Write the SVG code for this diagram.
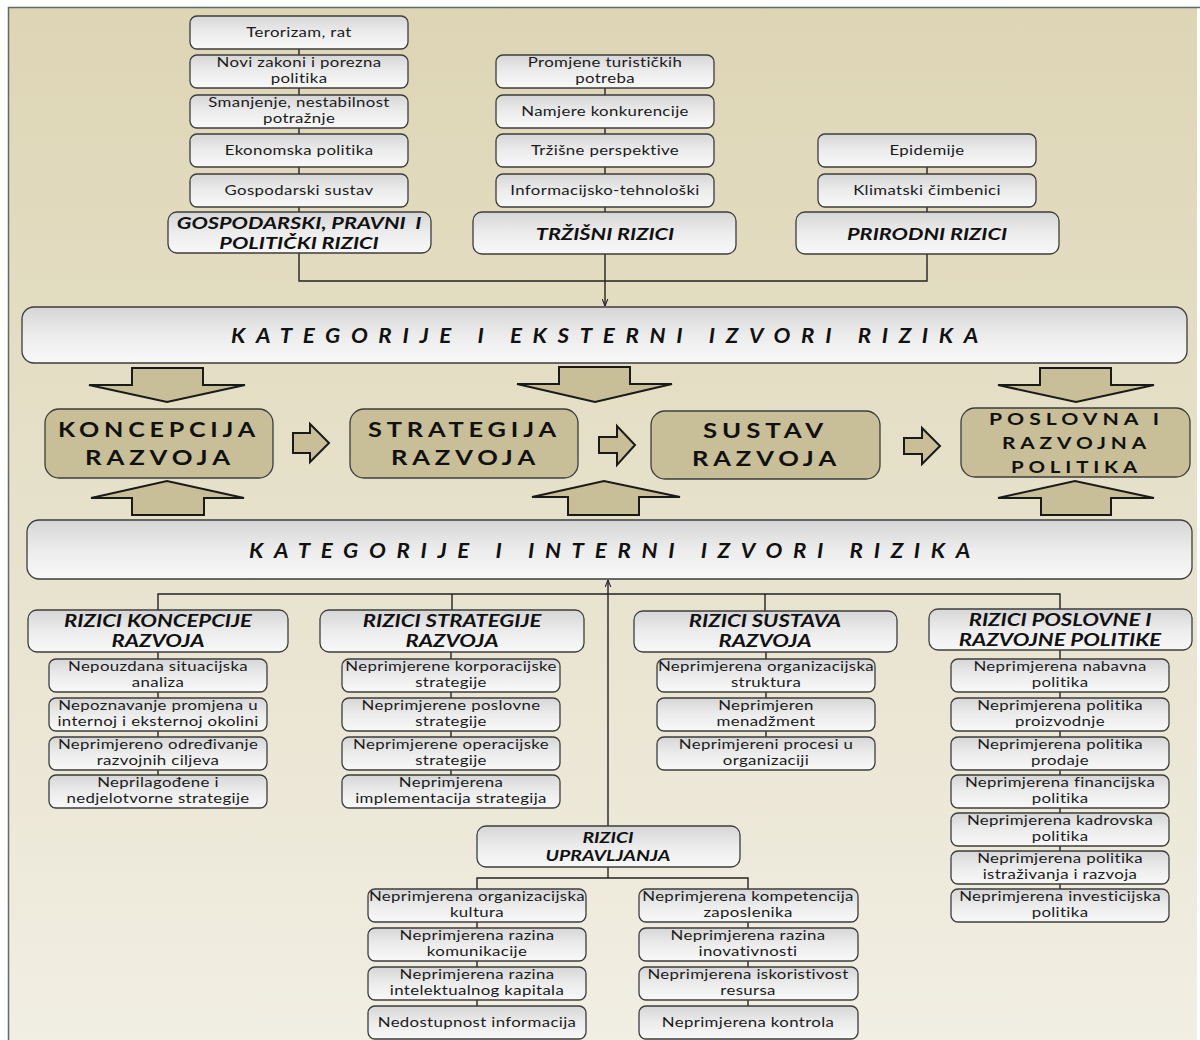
<svg xmlns="http://www.w3.org/2000/svg" width="1200" height="1040" viewBox="0 0 1200 1040">
<defs>
<linearGradient id="bg" x1="0" y1="0" x2="0" y2="1">
<stop offset="0" stop-color="#ddd5b4"/>
<stop offset="1" stop-color="#f1eee3"/>
</linearGradient>
<linearGradient id="box" x1="0" y1="0" x2="0" y2="1">
<stop offset="0" stop-color="#d6d6d6"/>
<stop offset="0.5" stop-color="#ececec"/>
<stop offset="1" stop-color="#f8f8f8"/>
</linearGradient>
<marker id="arr" viewBox="0 0 10 10" refX="10" refY="5" markerWidth="7" markerHeight="7" orient="auto-start-reverse" markerUnits="userSpaceOnUse">
<path d="M0,1 L10,5 L0,9" fill="none" stroke="#222" stroke-width="1.5"/>
</marker>
<style>
.b{fill:url(#box);stroke:#3c3c3c;stroke-width:1.3}
.n{fill:#c8be97;stroke:#3c3c3c;stroke-width:1.3}
.ba{fill:#c8be97;stroke:#1a1a1a;stroke-width:2;stroke-linejoin:miter}
.t{font-family:Lato,"Liberation Sans",sans-serif;font-size:14px;fill:#1a1a1a;text-anchor:middle;letter-spacing:0.3px}
.h{font-family:Lato,"Liberation Sans",sans-serif;font-size:17px;font-weight:bold;font-style:italic;fill:#111;text-anchor:middle}
.hs{font-family:Lato,"Liberation Sans",sans-serif;font-size:15px;font-weight:bold;font-style:italic;fill:#111;text-anchor:middle}
.band{font-family:Lato,"Liberation Sans",sans-serif;font-size:21px;font-weight:bold;font-style:italic;fill:#111;letter-spacing:10px}
.nt{font-family:Lato,"Liberation Sans",sans-serif;font-size:21px;font-weight:bold;fill:#111;letter-spacing:4px}
.nts{font-family:Lato,"Liberation Sans",sans-serif;font-size:17px;font-weight:bold;fill:#111;letter-spacing:4px}
.c{fill:none;stroke:#222;stroke-width:1.4}
</style>
</defs>
<rect x="0" y="0" width="1200" height="1040" fill="#ffffff"/>
<rect x="8" y="7" width="1189" height="1033" fill="url(#bg)"/>
<path d="M8.5 1040 V7.5 H1200" fill="none" stroke="#5d6b6b" stroke-width="1.5"/>

<g id="connectors">
<path class="c" d="M299 40 V212"/>
<path class="c" d="M605 70 V212"/>
<path class="c" d="M927 150 V212"/>
<path class="c" d="M299 253 V281 H927 V254"/>
<path class="c" d="M605 254 V306" marker-end="url(#arr)"/>
<path class="c" d="M608 826 V580" marker-end="url(#arr)"/>
<path class="c" d="M158 610 V594 H1060 V609"/>
<path class="c" d="M452 594 V610"/>
<path class="c" d="M765 594 V611"/>
<path class="c" d="M158 652 V790"/>
<path class="c" d="M451 652 V790"/>
<path class="c" d="M766 652 V750"/>
<path class="c" d="M1060 650 V900"/>
<path class="c" d="M608 867 V878"/>
<path class="c" d="M477 889 V878 H748 V889"/>
<path class="c" d="M477 900 V1015"/>
<path class="c" d="M748 900 V1015"/>
</g>

<g id="ext-gospodarski">
<g id="g1"><rect class="b" x="190" y="16" width="218" height="33" rx="7"/><g transform="translate(299 0) scale(1.2 1)"><text class="t" y="37">Terorizam, rat</text></g></g>
<g id="g2"><rect class="b" x="190" y="55" width="218" height="33" rx="7"/><g transform="translate(299 0) scale(1.2 1)"><text class="t" y="67.5">Novi zakoni i porezna</text><text class="t" y="83.5">politika</text></g></g>
<g id="g3"><rect class="b" x="190" y="95" width="218" height="33" rx="7"/><g transform="translate(299 0) scale(1.2 1)"><text class="t" y="107.5">Smanjenje, nestabilnost</text><text class="t" y="123.5">potražnje</text></g></g>
<g id="g4"><rect class="b" x="190" y="134" width="218" height="33" rx="7"/><g transform="translate(299 0) scale(1.2 1)"><text class="t" y="155">Ekonomska politika</text></g></g>
<g id="g5"><rect class="b" x="190" y="174" width="218" height="33" rx="7"/><g transform="translate(299 0) scale(1.2 1)"><text class="t" y="195">Gospodarski sustav</text></g></g>
<g id="gh"><rect class="b" x="168" y="212" width="263" height="41" rx="9"/><g transform="translate(299 0) scale(1.28 1)"><text class="h" y="229" style="white-space:pre">GOSPODARSKI, PRAVNI  I</text><text class="h" y="249">POLITIČKI RIZICI</text></g></g>
</g>

<g id="ext-trzisni">
<g id="m1"><rect class="b" x="496" y="55" width="218" height="33" rx="7"/><g transform="translate(605 0) scale(1.2 1)"><text class="t" y="67.5">Promjene turističkih</text><text class="t" y="83.5">potreba</text></g></g>
<g id="m2"><rect class="b" x="496" y="95" width="218" height="33" rx="7"/><g transform="translate(605 0) scale(1.2 1)"><text class="t" y="116">Namjere konkurencije</text></g></g>
<g id="m3"><rect class="b" x="496" y="134" width="218" height="33" rx="7"/><g transform="translate(605 0) scale(1.2 1)"><text class="t" y="155">Tržišne perspektive</text></g></g>
<g id="m4"><rect class="b" x="496" y="174" width="218" height="33" rx="7"/><g transform="translate(605 0) scale(1.2 1)"><text class="t" y="195">Informacijsko-tehnološki</text></g></g>
<g id="mh"><rect class="b" x="473" y="212" width="263" height="42" rx="9"/><g transform="translate(605 0) scale(1.28 1)"><text class="h" y="240">TRŽIŠNI RIZICI</text></g></g>
</g>

<g id="ext-prirodni">
<g id="p1"><rect class="b" x="818" y="134" width="218" height="33" rx="7"/><g transform="translate(927 0) scale(1.2 1)"><text class="t" y="155">Epidemije</text></g></g>
<g id="p2"><rect class="b" x="818" y="174" width="218" height="33" rx="7"/><g transform="translate(927 0) scale(1.2 1)"><text class="t" y="195">Klimatski čimbenici</text></g></g>
<g id="ph"><rect class="b" x="796" y="212" width="263" height="42" rx="9"/><g transform="translate(927 0) scale(1.28 1)"><text class="h" y="240">PRIRODNI RIZICI</text></g></g>
</g>

<g id="band-ext"><rect class="b" x="22" y="307" width="1165" height="56" rx="12"/><text class="band" x="231" y="343" textLength="758" lengthAdjust="spacingAndGlyphs">KATEGORIJE I EKSTERNI IZVORI RIZIKA</text></g>

<g id="block-arrows">
<polygon class="ba" points="132,368 203,368 203,385 245,385 167,402 89,385 132,385"/>
<polygon class="ba" points="559,367 630,367 630,384 672,384 595,402 517,384 559,384"/>
<polygon class="ba" points="1040,368 1111,368 1111,385 1154,385 1076,402 998,385 1040,385"/>
<polygon class="ba" points="132,515 204,515 204,498 244,498 167,481 91,498 132,498"/>
<polygon class="ba" points="568,515 639,515 639,497 680,497 604,481 532,497 568,497"/>
<polygon class="ba" points="1041,515 1111,515 1111,498 1154,498 1075,481 998,498 1041,498"/>
<polygon class="ba" points="293,433 310,433 310,424 329,443 310,462 310,453 293,453"/>
<polygon class="ba" points="599,437 617,437 617,426 635,445 617,465 617,453 599,453"/>
<polygon class="ba" points="904,438 922,438 922,428 940,446 922,464 922,454 904,454"/>
</g>

<g id="koncepcija"><rect class="n" x="45" y="409" width="228" height="69" rx="14"/><text class="nt" x="58" y="437" textLength="202" lengthAdjust="spacingAndGlyphs">KONCEPCIJA</text><text class="nt" x="85" y="465" textLength="150" lengthAdjust="spacingAndGlyphs">RAZVOJA</text></g>
<g id="strategija"><rect class="n" x="350" y="409" width="228" height="69" rx="14"/><text class="nt" x="368" y="437" textLength="193" lengthAdjust="spacingAndGlyphs">STRATEGIJA</text><text class="nt" x="391" y="465" textLength="149" lengthAdjust="spacingAndGlyphs">RAZVOJA</text></g>
<g id="sustav"><rect class="n" x="651" y="411" width="229" height="68" rx="14"/><text class="nt" x="703" y="438" textLength="125" lengthAdjust="spacingAndGlyphs">SUSTAV</text><text class="nt" x="692" y="466" textLength="149" lengthAdjust="spacingAndGlyphs">RAZVOJA</text></g>
<g id="poslovna"><rect class="n" x="961" y="408" width="229" height="69" rx="14"/><text class="nts" x="989" y="425" textLength="175" lengthAdjust="spacingAndGlyphs">POSLOVNA I</text><text class="nts" x="1002" y="449" textLength="149" lengthAdjust="spacingAndGlyphs">RAZVOJNA</text><text class="nts" x="1011" y="473" textLength="131" lengthAdjust="spacingAndGlyphs">POLITIKA</text></g>

<g id="band-int"><rect class="b" x="27" y="520" width="1165" height="59" rx="12"/><text class="band" x="249" y="558" textLength="732" lengthAdjust="spacingAndGlyphs">KATEGORIJE I INTERNI IZVORI RIZIKA</text></g>

<g id="int-koncepcija">
<g id="k0"><rect class="b" x="28" y="610" width="260" height="42" rx="9"/><g transform="translate(158 0) scale(1.3 1)"><text class="h" y="627">RIZICI KONCEPCIJE</text><text class="h" y="647">RAZVOJA</text></g></g>
<g id="k1"><rect class="b" x="49" y="659" width="218" height="33" rx="7"/><g transform="translate(158 0) scale(1.2 1)"><text class="t" y="671.5">Nepouzdana situacijska</text><text class="t" y="687.5">analiza</text></g></g>
<g id="k2"><rect class="b" x="49" y="698" width="218" height="33" rx="7"/><g transform="translate(158 0) scale(1.2 1)"><text class="t" y="710.5">Nepoznavanje promjena u</text><text class="t" y="726.5">internoj i eksternoj okolini</text></g></g>
<g id="k3"><rect class="b" x="49" y="737" width="218" height="33" rx="7"/><g transform="translate(158 0) scale(1.2 1)"><text class="t" y="749.5">Neprimjereno određivanje</text><text class="t" y="765.5">razvojnih ciljeva</text></g></g>
<g id="k4"><rect class="b" x="49" y="775" width="218" height="33" rx="7"/><g transform="translate(158 0) scale(1.2 1)"><text class="t" y="787.5">Neprilagođene i</text><text class="t" y="803.5">nedjelotvorne strategije</text></g></g>
</g>

<g id="int-strategija">
<g id="s0"><rect class="b" x="320" y="610" width="264" height="42" rx="9"/><g transform="translate(452 0) scale(1.3 1)"><text class="h" y="627">RIZICI STRATEGIJE</text><text class="h" y="647">RAZVOJA</text></g></g>
<g id="s1"><rect class="b" x="342" y="659" width="218" height="33" rx="7"/><g transform="translate(451 0) scale(1.2 1)"><text class="t" y="671.5">Neprimjerene korporacijske</text><text class="t" y="687.5">strategije</text></g></g>
<g id="s2"><rect class="b" x="342" y="698" width="218" height="33" rx="7"/><g transform="translate(451 0) scale(1.2 1)"><text class="t" y="710.5">Neprimjerene poslovne</text><text class="t" y="726.5">strategije</text></g></g>
<g id="s3"><rect class="b" x="342" y="737" width="218" height="33" rx="7"/><g transform="translate(451 0) scale(1.2 1)"><text class="t" y="749.5">Neprimjerene operacijske</text><text class="t" y="765.5">strategije</text></g></g>
<g id="s4"><rect class="b" x="342" y="775" width="218" height="33" rx="7"/><g transform="translate(451 0) scale(1.2 1)"><text class="t" y="787.5">Neprimjerena</text><text class="t" y="803.5">implementacija strategija</text></g></g>
</g>

<g id="int-sustav">
<g id="u0"><rect class="b" x="634" y="611" width="263" height="41" rx="9"/><g transform="translate(765 0) scale(1.3 1)"><text class="h" y="627">RIZICI SUSTAVA</text><text class="h" y="647">RAZVOJA</text></g></g>
<g id="u1"><rect class="b" x="657" y="659" width="218" height="33" rx="7"/><g transform="translate(766 0) scale(1.2 1)"><text class="t" y="671.5">Neprimjerena organizacijska</text><text class="t" y="687.5">struktura</text></g></g>
<g id="u2"><rect class="b" x="657" y="698" width="218" height="33" rx="7"/><g transform="translate(766 0) scale(1.2 1)"><text class="t" y="710.5">Neprimjeren</text><text class="t" y="726.5">menadžment</text></g></g>
<g id="u3"><rect class="b" x="657" y="737" width="218" height="33" rx="7"/><g transform="translate(766 0) scale(1.2 1)"><text class="t" y="749.5">Neprimjereni procesi u</text><text class="t" y="765.5">organizaciji</text></g></g>
</g>

<g id="int-poslovna">
<g id="q0"><rect class="b" x="929" y="609" width="263" height="41" rx="9"/><g transform="translate(1060 0) scale(1.3 1)"><text class="h" y="626">RIZICI POSLOVNE I</text><text class="h" y="646">RAZVOJNE POLITIKE</text></g></g>
<g id="q1"><rect class="b" x="951" y="659" width="218" height="33" rx="7"/><g transform="translate(1060 0) scale(1.2 1)"><text class="t" y="671.5">Neprimjerena nabavna</text><text class="t" y="687.5">politika</text></g></g>
<g id="q2"><rect class="b" x="951" y="698" width="218" height="33" rx="7"/><g transform="translate(1060 0) scale(1.2 1)"><text class="t" y="710.5">Neprimjerena politika</text><text class="t" y="726.5">proizvodnje</text></g></g>
<g id="q3"><rect class="b" x="951" y="737" width="218" height="33" rx="7"/><g transform="translate(1060 0) scale(1.2 1)"><text class="t" y="749.5">Neprimjerena politika</text><text class="t" y="765.5">prodaje</text></g></g>
<g id="q4"><rect class="b" x="951" y="775" width="218" height="33" rx="7"/><g transform="translate(1060 0) scale(1.2 1)"><text class="t" y="787.5">Neprimjerena financijska</text><text class="t" y="803.5">politika</text></g></g>
<g id="q5"><rect class="b" x="951" y="813" width="218" height="33" rx="7"/><g transform="translate(1060 0) scale(1.2 1)"><text class="t" y="825.5">Neprimjerena kadrovska</text><text class="t" y="841.5">politika</text></g></g>
<g id="q6"><rect class="b" x="951" y="851" width="218" height="33" rx="7"/><g transform="translate(1060 0) scale(1.2 1)"><text class="t" y="863.5">Neprimjerena politika</text><text class="t" y="879.5">istraživanja i razvoja</text></g></g>
<g id="q7"><rect class="b" x="951" y="889" width="218" height="33" rx="7"/><g transform="translate(1060 0) scale(1.2 1)"><text class="t" y="901.5">Neprimjerena investicijska</text><text class="t" y="917.5">politika</text></g></g>
</g>

<g id="int-upravljanje">
<g id="r0"><rect class="b" x="477" y="826" width="263" height="41" rx="9"/><g transform="translate(608 0) scale(1.3 1)"><text class="hs" y="843">RIZICI</text><text class="hs" y="861">UPRAVLJANJA</text></g></g>
<g id="r1"><rect class="b" x="368" y="889" width="218" height="33" rx="7"/><g transform="translate(477 0) scale(1.2 1)"><text class="t" y="901.5">Neprimjerena organizacijska</text><text class="t" y="917.5">kultura</text></g></g>
<g id="r2"><rect class="b" x="368" y="928" width="218" height="33" rx="7"/><g transform="translate(477 0) scale(1.2 1)"><text class="t" y="940.5">Neprimjerena razina</text><text class="t" y="956.5">komunikacije</text></g></g>
<g id="r3"><rect class="b" x="368" y="967" width="218" height="33" rx="7"/><g transform="translate(477 0) scale(1.2 1)"><text class="t" y="979.5">Neprimjerena razina</text><text class="t" y="995.5">intelektualnog kapitala</text></g></g>
<g id="r4"><rect class="b" x="368" y="1006" width="218" height="33" rx="7"/><g transform="translate(477 0) scale(1.2 1)"><text class="t" y="1027">Nedostupnost informacija</text></g></g>
<g id="r5"><rect class="b" x="639" y="889" width="219" height="33" rx="7"/><g transform="translate(748 0) scale(1.2 1)"><text class="t" y="901.5">Neprimjerena kompetencija</text><text class="t" y="917.5">zaposlenika</text></g></g>
<g id="r6"><rect class="b" x="639" y="928" width="219" height="33" rx="7"/><g transform="translate(748 0) scale(1.2 1)"><text class="t" y="940.5">Neprimjerena razina</text><text class="t" y="956.5">inovativnosti</text></g></g>
<g id="r7"><rect class="b" x="639" y="967" width="219" height="33" rx="7"/><g transform="translate(748 0) scale(1.2 1)"><text class="t" y="979.5">Neprimjerena iskoristivost</text><text class="t" y="995.5">resursa</text></g></g>
<g id="r8"><rect class="b" x="639" y="1006" width="219" height="33" rx="7"/><g transform="translate(748 0) scale(1.2 1)"><text class="t" y="1027">Neprimjerena kontrola</text></g></g>
</g>
</svg>
